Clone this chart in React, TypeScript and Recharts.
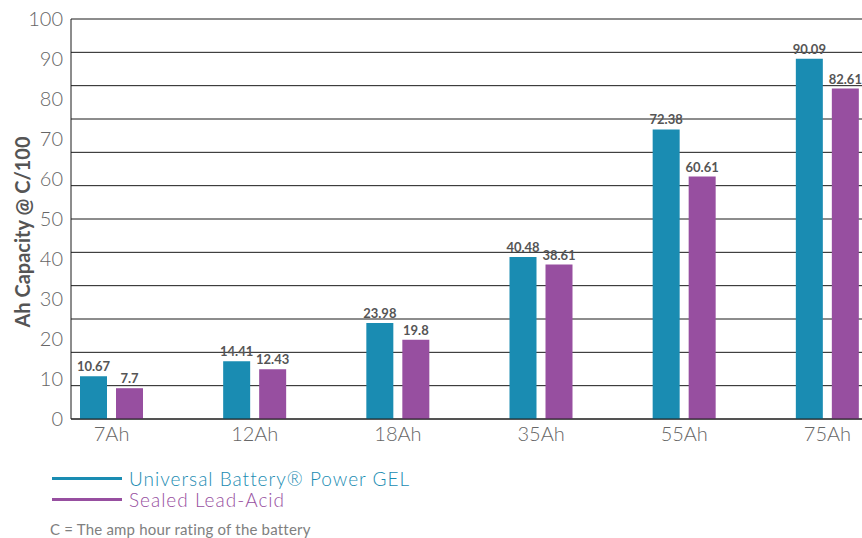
import React from 'react';
import { BarChart, Bar, XAxis, YAxis, CartesianGrid, LabelList } from 'recharts';

const categories = ['7Ah', '12Ah', '18Ah', '35Ah', '55Ah', '75Ah'];
const gelValues = [10.67, 14.41, 23.98, 40.48, 72.38, 90.09];
const slaValues = [7.7, 12.43, 19.8, 38.61, 60.61, 82.61];
const yTicks = [0, 10, 20, 30, 40, 50, 60, 70, 80, 90, 100];
const gridTicks = [0, 10, 20, 30, 40, 50, 60, 70, 80, 90, 100, 110, 120];
const gridMax = 120;
const seriesNames = ['Universal Battery® Power GEL', 'Sealed Lead-Acid'];
const footnote = 'C = The amp hour rating of the battery';

const BLUE = '#1A8CB2';
const PURPLE = '#974FA0';
const seriesColors = [BLUE, PURPLE];
const FONT = 'Lato, "Noto Sans", sans-serif';

const data = categories.map((c, i) => ({ name: c, gel: gelValues[i], sla: slaValues[i] }));

const gridGenerator = (props: any) => {
  const yAxis = props && props.yAxis;
  if (yAxis && typeof yAxis.scale === 'function') {
    const vals = gridTicks.map((v) => yAxis.scale(v)).filter((y: any) => typeof y === 'number' && !isNaN(y));
    if (vals.length === gridTicks.length) return vals;
  }
  const off = props.offset;
  return gridTicks.map((v) => off.top + off.height * (1 - v / gridMax));
};

const YTitle = (props: any) => {
  const vb = props.viewBox || { x: 0, y: 0, width: 0, height: 0 };
  const cx = vb.x + 11;
  const cy = vb.y + vb.height / 2 + 13;
  return (
    <text
      x={cx}
      y={cy}
      transform={`rotate(-90, ${cx}, ${cy})`}
      textAnchor="middle"
      dominantBaseline="central"
      fill="#555"
      fontSize={20}
      fontWeight={700}
      fontFamily={FONT}
    >
      Ah Capacity @ C/100
    </text>
  );
};

export default function App() {
  return (
    <div style={{ position: 'absolute', left: 0, top: 0, width: 862, height: 538, background: '#fff', fontFamily: FONT }}>
      <BarChart
        width={862}
        height={538}
        data={data}
        margin={{ top: 19, right: 0, left: 11, bottom: 89 }}
        barSize={27}
        barGap={9}
      >
        <CartesianGrid
          yAxisId="grid"
          vertical={false}
          stroke="#1a1a1a"
          strokeWidth={1}
          horizontalCoordinatesGenerator={gridGenerator}
        />
        <XAxis
          dataKey="name"
          height={30}
          tickLine={false}
          tickSize={0}
          tickMargin={8}
          axisLine={{ stroke: '#1a1a1a' }}
          padding={{ left: -31, right: -37 }}
          tick={{ fill: '#666', fontSize: 20, fontFamily: FONT, fontWeight: 300 }}
          interval={0}
        />
        <YAxis
          yAxisId="left"
          width={60}
          domain={[0, 100]}
          ticks={yTicks}
          interval={0}
          tickLine={false}
          tickSize={0}
          tickMargin={8}
          axisLine={{ stroke: '#1a1a1a' }}
          tick={{ fill: '#666', fontSize: 20, fontFamily: FONT, fontWeight: 300 }}
          label={<YTitle />}
        />
        <YAxis
          yAxisId="grid"
          orientation="right"
          width={0}
          domain={[0, gridMax]}
          ticks={gridTicks}
          interval={0}
          tick={false}
          tickLine={false}
          axisLine={false}
        />
        <Bar yAxisId="left" dataKey="gel" name={seriesNames[0]} fill={BLUE} isAnimationActive={false}>
          <LabelList dataKey="gel" position="top" offset={5} fill="#555" fontSize={13} fontWeight={700} fontFamily={FONT} />
        </Bar>
        <Bar yAxisId="left" dataKey="sla" name={seriesNames[1]} fill={PURPLE} isAnimationActive={false}>
          <LabelList dataKey="sla" position="top" offset={5} fill="#555" fontSize={13} fontWeight={700} fontFamily={FONT} />
        </Bar>
      </BarChart>
      <div style={{ position: 'absolute', left: 52, top: 468 }}>
        {seriesNames.map((n, i) => (
          <div key={n} style={{ display: 'flex', alignItems: 'center', height: 21 }}>
            <span style={{ display: 'inline-block', width: 70, height: 3, background: seriesColors[i], marginRight: 7 }} />
            <span style={{ color: seriesColors[i], fontSize: 19, fontWeight: 300, lineHeight: '21px', letterSpacing: 1, whiteSpace: 'nowrap' }}>{n}</span>
          </div>
        ))}
        <div style={{ color: '#808080', fontSize: 15, lineHeight: '16px', marginTop: 11, letterSpacing: 0.2, whiteSpace: 'nowrap', marginLeft: -2 }}>{footnote}</div>
      </div>
    </div>
  );
}
